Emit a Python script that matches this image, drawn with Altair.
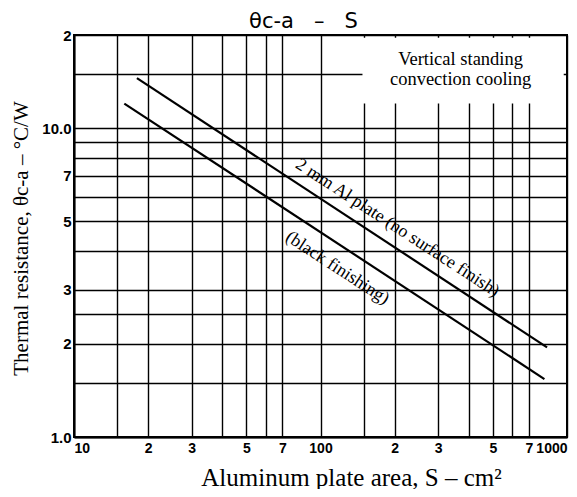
import altair as alt
import pandas as pd

# ---- data ----
series_names = ["no surface finish", "black finishing"]
upper_x = [18, 830]
upper_y = [14.5, 1.95]
lower_x = [16, 810]
lower_y = [12.0, 1.54]

x_grid = [10, 15, 20, 30, 40, 50, 60, 70, 100, 150, 200, 300, 400, 500, 600, 700, 1000]
x_label_vals = [10, 20, 30, 50, 70, 100, 200, 300, 500, 700, 1000]
x_label_txt = ["10", "2", "3", "5", "7", "100", "2", "3", "5", "7", "1000"]
y_grid = [1, 1.5, 2, 2.5, 3, 4, 5, 6, 7, 8, 9, 10, 15, 20]
y_label_vals = [1, 2, 3, 5, 7, 10, 20]
y_label_txt = ["1.0", "2", "3", "5", "7", "10.0", "2"]

label_text = ["2 mm Al plate (no surface finish)", "(black finishing)"]
label_x = [205, 117]
label_y = [4.75, 3.52]

note_text = ["Vertical standing", "convection cooling"]
note_x = [370]
note_y = [16.0]
box_x = [148, 970]
box_y = [12.0, 19.6]

title_text = ["\u03b8c-a\u00a0\u00a0\u00a0\u2013\u00a0\u00a0\u00a0S"]
title_x = [85.3]
title_y = [21.1]
x_title = "Aluminum plate area, S \u2013 cm\u00b2"
y_title = "Thermal resistance, \u03b8c-a \u2013 \u00b0C/W"

# ---- tables ----
lines_df = pd.DataFrame({
    "series": [series_names[0]] * len(upper_x) + [series_names[1]] * len(lower_x),
    "S": upper_x + lower_x,
    "R": upper_y + lower_y,
})
labels_df = pd.DataFrame({"S": label_x, "R": label_y, "t": label_text})
note_df = pd.DataFrame({"S": note_x, "R": note_y, "t": ["\n".join(note_text)]})
title_df = pd.DataFrame({"S": title_x, "R": title_y, "t": title_text})
box_df = pd.DataFrame({"S": [box_x[0]], "S2": [box_x[1]], "R": [box_y[0]], "R2": [box_y[1]]})


def expr(vals, txts):
    return " : ".join(f"datum.value == {v} ? '{t}'" for v, t in zip(vals, txts)) + " : ''"


xscale = alt.Scale(type="log", domain=[10, 1000], nice=False)
yscale = alt.Scale(type="log", domain=[1, 20], nice=False)

xaxis = alt.Axis(values=x_grid, labelExpr=expr(x_label_vals, x_label_txt), grid=True,
                 ticks=False, labelOverlap=False, labelFlush=True, labelPadding=4,
                 labelFontSize=14,
                 title=x_title, titleX=277, titleY=48, titleBaseline="alphabetic",
                 titleAlign="center", titleFont="Liberation Serif", titleFontSize=25,
                 titleFontWeight="normal")
yaxis = alt.Axis(values=y_grid, labelExpr=expr(y_label_vals, y_label_txt), grid=True,
                 ticks=False, labelOverlap=False, labelFlush=False, labelPadding=3,
                 labelBaseline="middle", labelFontSize=15,
                 title=y_title, titleX=-53, titleY=203, titleAngle=270,
                 titleBaseline="middle", titleAlign="center",
                 titleFont="Liberation Serif", titleFontSize=21, titleFontWeight="normal")


def enc(chart):
    return chart.encode(
        x=alt.X("S:Q", scale=xscale, axis=xaxis),
        y=alt.Y("R:Q", scale=yscale, axis=yaxis),
    )


box = alt.Chart(box_df).mark_rect(fill="white", stroke=None).encode(
    x=alt.X("S:Q", scale=xscale, axis=xaxis),
    x2="S2:Q",
    y=alt.Y("R:Q", scale=yscale, axis=yaxis),
    y2="R2:Q",
)

lines = enc(alt.Chart(lines_df).mark_line(color="black", strokeWidth=2.2)).encode(
    detail="series:N",
)

labels = enc(alt.Chart(labels_df).mark_text(
    angle=33, align="center", baseline="middle", font="Liberation Serif",
    fontSize=18, color="black"
)).encode(text="t:N")

note = enc(alt.Chart(note_df).mark_text(
    align="center", baseline="alphabetic", font="Liberation Serif", fontSize=18.5,
    lineBreak="\n", lineHeight=20, color="black"
)).encode(text="t:N")

title = enc(alt.Chart(title_df).mark_text(
    align="center", baseline="alphabetic", font="DejaVu Sans", fontSize=21,
    color="black"
)).encode(text="t:N")

chart = alt.layer(box, lines, labels, note, title).properties(
    width=493,
    height=402,
    autosize="none",
    padding={"left": 66, "top": 27, "right": 2, "bottom": 52},
).configure_view(
    stroke="black", strokeWidth=2
).configure_axis(
    gridColor="black", gridWidth=1.4, gridOpacity=1,
    domainColor="black", domainWidth=2,
    labelFont="Liberation Sans", labelFontWeight="bold",
    labelColor="black", titleColor="black",
)

chart.save("out.html", embed_options={"renderer": "svg", "actions": False})
